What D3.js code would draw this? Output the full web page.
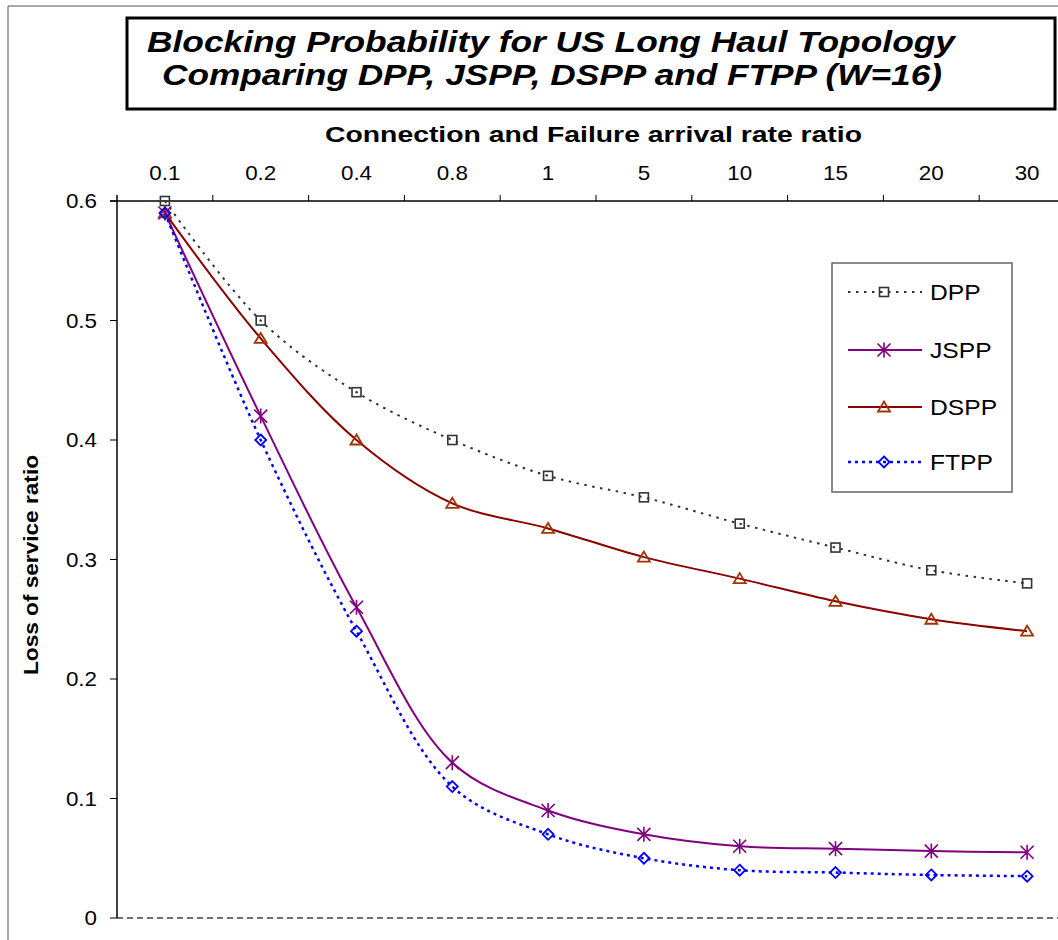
<!DOCTYPE html>
<html>
<head>
<meta charset="utf-8">
<script src="https://cdn.jsdelivr.net/npm/d3@7/dist/d3.min.js"></script>
<style>
  html, body { margin: 0; padding: 0; background: #fff; }
  svg { display: block; }
  text { font-family: "Liberation Sans", Arial, sans-serif; fill: #000; }
</style>
</head>
<body>
<svg id="chart" width="1058" height="940"></svg>
<script>
// Connection / failure arrival rate ratios (categorical axis along the top)
const categories = ["0.1", "0.2", "0.4", "0.8", "1", "5", "10", "15", "20", "30"];

// Loss of service ratio per protection scheme
const dppValues  = [0.600, 0.500, 0.440, 0.400, 0.370, 0.352, 0.330, 0.310, 0.291, 0.280];
const jsppValues = [0.590, 0.420, 0.260, 0.130, 0.090, 0.070, 0.060, 0.058, 0.056, 0.055];
const dsppValues = [0.590, 0.485, 0.400, 0.347, 0.326, 0.302, 0.284, 0.265, 0.250, 0.240];
const ftppValues = [0.590, 0.400, 0.240, 0.110, 0.070, 0.050, 0.040, 0.038, 0.036, 0.035];

const seriesNames = ["DPP", "JSPP", "DSPP", "FTPP"];
const yTickValues = [0, 0.1, 0.2, 0.3, 0.4, 0.5, 0.6];
const yTickLabels = ["0", "0.1", "0.2", "0.3", "0.4", "0.5", "0.6"];

const titleLines = [
  "Blocking Probability for US Long Haul Topology",
  "Comparing DPP, JSPP, DSPP and FTPP (W=16)"
];
const xAxisTitle = "Connection and Failure arrival rate ratio";
const yAxisTitle = "Loss of service ratio";

const series = [
  { name: seriesNames[0], values: dppValues },
  { name: seriesNames[1], values: jsppValues },
  { name: seriesNames[2], values: dsppValues },
  { name: seriesNames[3], values: ftppValues }
];

const styles = {
  DPP:  { color: "#333333", width: 2,   dash: "2.5,5.5", marker: "square",   mcolor: "#333333" },
  JSPP: { color: "#800080", width: 2,   dash: null,      marker: "asterisk", mcolor: "#800080" },
  DSPP: { color: "#8b0000", width: 2,   dash: null,      marker: "triangle", mcolor: "#a33300" },
  FTPP: { color: "#0000ff", width: 2.5, dash: "3,4",     marker: "diamond",  mcolor: "#0000ff" }
};

const svg = d3.select("#chart");
const W = 1058, H = 940;
const SX = 1.12; // glyph widening used by the chart's lettering

svg.append("rect").attr("width", W).attr("height", H).attr("fill", "#fff");

// outer chart frame
svg.append("path").attr("d", "M8,940 V6 H1058")
  .attr("fill", "none").attr("stroke", "#555").attr("stroke-width", 1);

// geometry of the plot
const plot = { left: 117, top: 201, bottom: 918, right: 1058 };
const bandW = 95.8;

const x = d3.scaleBand()
  .domain(categories)
  .range([plot.left, plot.left + bandW * categories.length])
  .paddingInner(0).paddingOuter(0);
const xc = c => x(c) + x.bandwidth() / 2;

const y = d3.scaleLinear().domain([0, 0.6]).range([plot.bottom, plot.top]);

// text helper: widened glyphs anchored at (px, py)
function wideText(g, str, px, py, opts) {
  const t = g.append("text")
    .attr("transform", `translate(${px},${py}) scale(${SX},1)`)
    .attr("text-anchor", opts.anchor || "start")
    .style("font-size", opts.size + "px")
    .text(str);
  if (opts.weight) t.style("font-weight", opts.weight);
  if (opts.italic) t.style("font-style", "italic");
  return t;
}

// ---- title box ----
svg.append("rect")
  .attr("x", 127).attr("y", 18).attr("width", 928).attr("height", 91)
  .attr("fill", "#fff").attr("stroke", "#000").attr("stroke-width", 3);

const titleG = svg.append("g");
titleG.append("text")
  .attr("x", 147).attr("y", 52)
  .attr("textLength", 808).attr("lengthAdjust", "spacingAndGlyphs")
  .style("font-size", "29px").style("font-weight", "bold").style("font-style", "italic")
  .text(titleLines[0]);
titleG.append("text")
  .attr("x", 162).attr("y", 85)
  .attr("textLength", 780).attr("lengthAdjust", "spacingAndGlyphs")
  .style("font-size", "29px").style("font-weight", "bold").style("font-style", "italic")
  .text(titleLines[1]);

// ---- x axis title ----
svg.append("text")
  .attr("x", 325).attr("y", 142)
  .attr("textLength", 537).attr("lengthAdjust", "spacingAndGlyphs")
  .style("font-size", "22px").style("font-weight", "bold")
  .text(xAxisTitle);

// ---- y axis title ----
svg.append("text")
  .attr("transform", `translate(38,565) rotate(-90)`)
  .attr("text-anchor", "middle")
  .attr("textLength", 220).attr("lengthAdjust", "spacingAndGlyphs")
  .style("font-size", "21px").style("font-weight", "bold")
  .text(yAxisTitle);

// ---- zero baseline (dashed) ----
svg.append("line")
  .attr("x1", plot.left).attr("x2", plot.right)
  .attr("y1", y(0)).attr("y2", y(0))
  .attr("stroke", "#707070").attr("stroke-width", 2).attr("stroke-dasharray", "6,4");

// ---- top category axis ----
const axisG = svg.append("g");
axisG.append("line")
  .attr("x1", plot.left - 7).attr("x2", plot.right)
  .attr("y1", y(0.6)).attr("y2", y(0.6))
  .attr("stroke", "#000").attr("stroke-width", 1.5);
categories.forEach((c, i) => {
  if (i > 0) {
    axisG.append("line")
      .attr("x1", x(c)).attr("x2", x(c))
      .attr("y1", y(0.6)).attr("y2", y(0.6) - 6)
      .attr("stroke", "#000").attr("stroke-width", 1);
  }
  wideText(axisG, c, xc(c), 180, { size: 20, anchor: "middle" });
});

// ---- left value axis ----
axisG.append("line")
  .attr("x1", plot.left).attr("x2", plot.left)
  .attr("y1", y(0.6) - 6).attr("y2", y(0))
  .attr("stroke", "#000").attr("stroke-width", 1.5);
yTickValues.forEach((v, i) => {
  axisG.append("line")
    .attr("x1", plot.left - 7).attr("x2", plot.left)
    .attr("y1", y(v)).attr("y2", y(v))
    .attr("stroke", "#000").attr("stroke-width", 1);
  wideText(axisG, yTickLabels[i], 97, y(v) + 7, { size: 20, anchor: "end" });
});

// ---- markers ----
function drawMarker(g, kind, cx, cy, color) {
  if (kind === "square") {
    g.append("rect").attr("x", cx - 4.5).attr("y", cy - 4.5)
      .attr("width", 9).attr("height", 9)
      .attr("fill", "none").attr("stroke", color).attr("stroke-width", 1.6);
  } else if (kind === "triangle") {
    g.append("path")
      .attr("d", `M${cx},${cy - 5.5} L${cx + 6},${cy + 4.5} L${cx - 6},${cy + 4.5} Z`)
      .attr("fill", "none").attr("stroke", color).attr("stroke-width", 1.8);
  } else if (kind === "diamond") {
    g.append("path")
      .attr("d", `M${cx},${cy - 5.5} L${cx + 5.5},${cy} L${cx},${cy + 5.5} L${cx - 5.5},${cy} Z`)
      .attr("fill", "none").attr("stroke", color).attr("stroke-width", 1.8);
  } else if (kind === "asterisk") {
    const r = 7.5, d = 6.5;
    g.append("path")
      .attr("d", `M${cx},${cy - r} V${cy + r} M${cx - d},${cy - d} L${cx + d},${cy + d} M${cx - d},${cy + d} L${cx + d},${cy - d}`)
      .attr("fill", "none").attr("stroke", color).attr("stroke-width", 1.6);
  }
}

// ---- series lines ----
const line = d3.line()
  .x((d, i) => xc(categories[i]))
  .y(d => y(d))
  .curve(d3.curveCatmullRom.alpha(0.5));

const seriesG = svg.append("g");
series.forEach(s => {
  const st = styles[s.name];
  const p = seriesG.append("path")
    .attr("d", line(s.values))
    .attr("fill", "none")
    .attr("stroke", st.color)
    .attr("stroke-width", st.width);
  if (st.dash) p.attr("stroke-dasharray", st.dash);
});
series.forEach(s => {
  const st = styles[s.name];
  s.values.forEach((v, i) => drawMarker(seriesG, st.marker, xc(categories[i]), y(v), st.mcolor));
});

// ---- legend ----
const legend = svg.append("g");
legend.append("rect")
  .attr("x", 832).attr("y", 263).attr("width", 180).attr("height", 229)
  .attr("fill", "#fff").attr("stroke", "#666").attr("stroke-width", 1.5);
const legendRows = [292, 350, 407, 462];
series.forEach((s, i) => {
  const st = styles[s.name];
  const ly = legendRows[i];
  const l = legend.append("line")
    .attr("x1", 848).attr("x2", 922).attr("y1", ly).attr("y2", ly)
    .attr("stroke", st.color).attr("stroke-width", st.width);
  if (st.dash) l.attr("stroke-dasharray", st.dash);
  drawMarker(legend, st.marker, 884, ly, st.mcolor);
  wideText(legend, s.name, 930, ly + 8, { size: 22 });
});
</script>
</body>
</html>
